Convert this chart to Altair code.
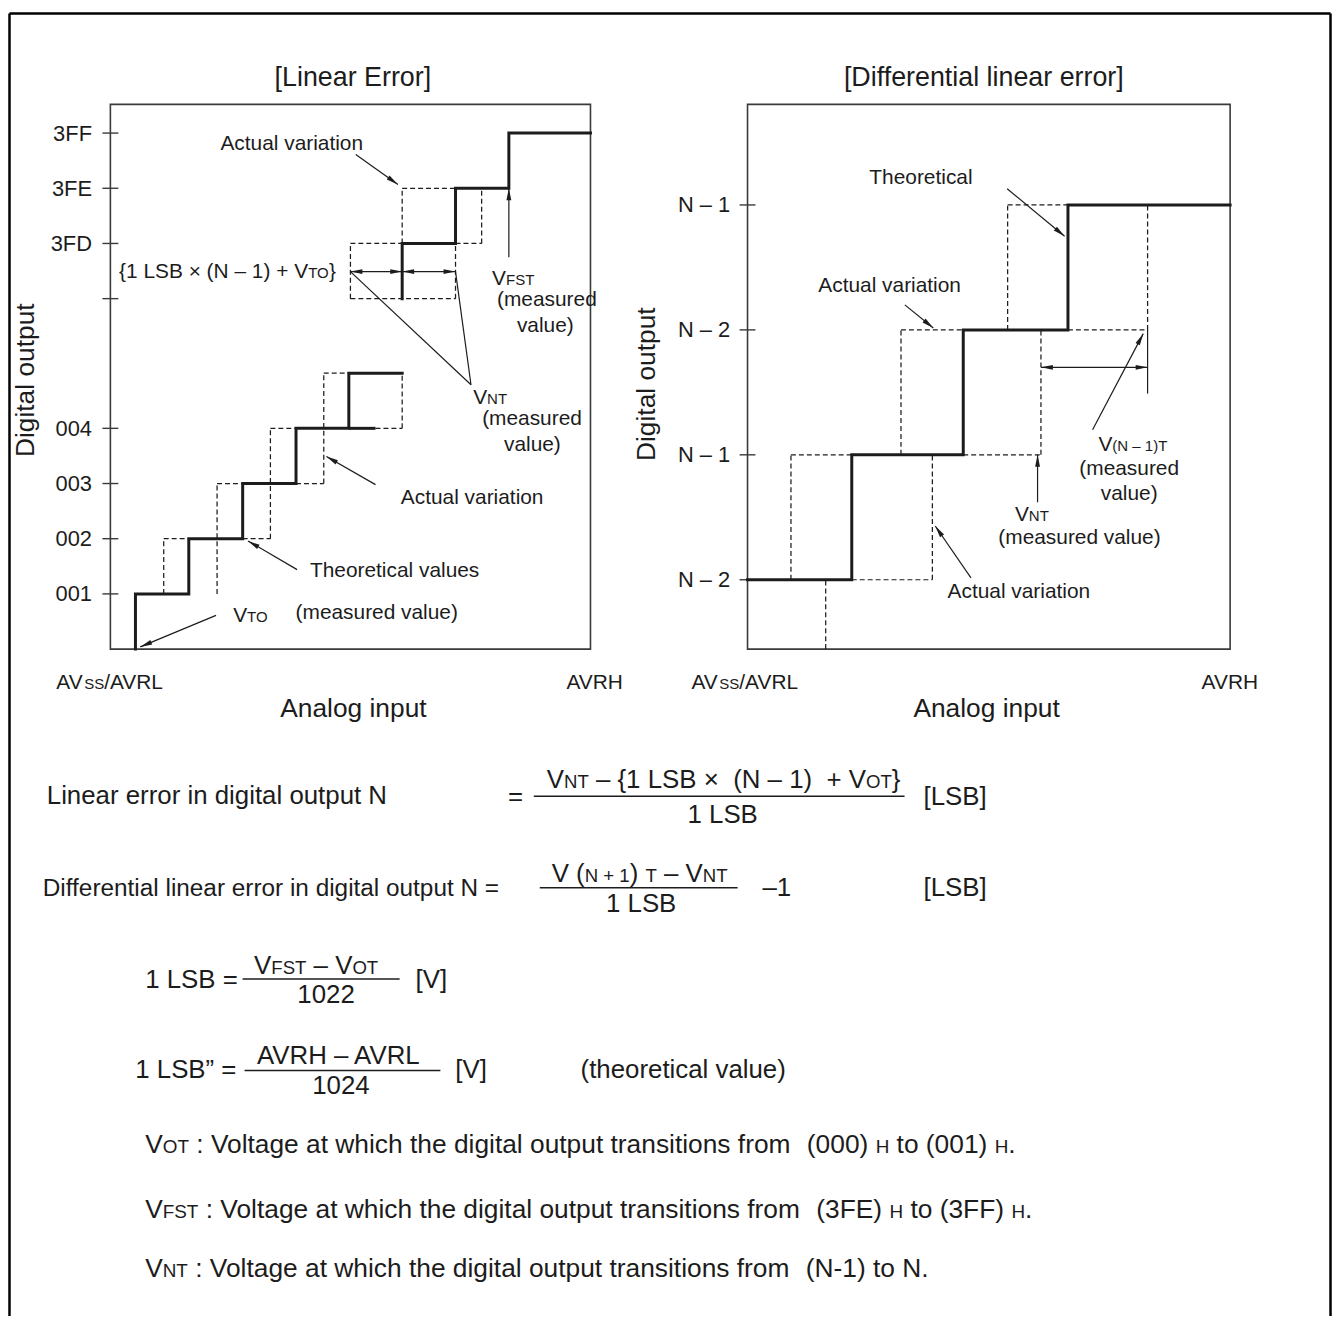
import json
import math
import altair as alt
import pandas as pd

FONT = "Liberation Sans, Arial, Helvetica, sans-serif"
INK = "#1c1c1c"
FRAME = "#3a3a3a"
CW, CH = 1332, 1312          # chart size; the page adds an 8px margin

# ------------------------------------------------------------------ data
# Left panel "[Linear Error]": x = analog input (LSB steps), y = output code rows
L_X_DOMAIN = [0, 9]
L_Y_DOMAIN = [0, 9.87]
L_TICK_POS = [1, 2, 3, 4, 6.35, 7.35, 8.35, 9.35]
L_TICK_LABELS = ["001", "002", "003", "004", "", "3FD", "3FE", "3FF"]
L_LOW_TRANS = [0.47, 1.47, 2.48, 3.48, 4.47]
L_LOW_LEVELS = [0, 1, 2, 3, 4, 5]
L_LOW_END = 5.47
L_UP_TRANS = [5.47, 6.47, 7.47]
L_UP_LEVELS = [6.35, 7.35, 8.35, 9.35]
L_UP_END = 9.0
L_SOLID_EXTRA = [(4.47, 4, 4.97, 4)]
L_DASHED = [
    (1.0, 1, 1.0, 2), (1.0, 2, 1.47, 2),
    (2.0, 1, 2.0, 3), (2.0, 3, 2.48, 3), (2.48, 2, 3.0, 2),
    (3.0, 2, 3.0, 4), (3.0, 4, 3.48, 4), (3.48, 3, 4.0, 3),
    (4.0, 3, 4.0, 5), (4.0, 5, 4.47, 5),
    (4.97, 4, 5.47, 4), (5.47, 4, 5.47, 5),
    (4.5, 6.35, 4.5, 7.35), (4.5, 7.35, 5.47, 7.35), (4.5, 6.35, 6.47, 6.35),
    (6.47, 6.35, 6.47, 7.35), (5.47, 7.35, 5.47, 8.35), (5.47, 8.35, 6.47, 8.35),
    (6.47, 7.35, 6.96, 7.35), (6.96, 7.35, 6.96, 8.35),
]
# x1, y1, x2, y2, head at start, head at end
L_ARROWS = [
    (4.60, 8.96, 5.39, 8.42, 0, 1),
    (4.50, 6.84, 5.47, 6.84, 1, 1),
    (5.47, 6.84, 6.47, 6.84, 1, 1),
    (4.50, 6.84, 6.76, 4.79, 0, 0),
    (6.47, 6.84, 6.76, 4.79, 0, 0),
    (7.47, 7.10, 7.47, 8.35, 0, 1),
    (4.97, 2.98, 4.05, 3.49, 0, 1),
    (3.50, 1.44, 2.58, 1.96, 0, 1),
    (1.98, 0.61, 0.56, 0.04, 0, 1),
]

# Right panel "[Differential linear error]"
R_X_DOMAIN = [0, 10]
R_Y_DOMAIN = [-0.555, 3.805]
R_TICK_POS = [0, 1, 2, 3]
R_TICK_LABELS = ["N – 2", "N – 1", "N – 2", "N – 1"]
R_START = 0
R_TRANS = [2.16, 4.47, 6.64]
R_LEVELS = [0, 1, 2, 3]
R_END = 10
R_DASHED = [
    (0.90, 0, 0.90, 1), (0.90, 1, 2.16, 1),
    (1.62, -0.555, 1.62, 0),
    (2.16, 0, 3.83, 0), (3.83, 0, 3.83, 1),
    (3.18, 1, 3.18, 2), (3.18, 2, 4.47, 2),
    (4.47, 1, 6.08, 1), (6.08, 1, 6.08, 2),
    (5.39, 2, 5.39, 3), (5.39, 3, 6.64, 3),
    (6.64, 2, 8.29, 2), (8.29, 2, 8.29, 3),
]
R_ARROWS = [
    (5.38, 3.13, 6.57, 2.75, 0, 1),
    (3.26, 2.20, 3.85, 2.015, 0, 1),
    (6.08, 1.70, 8.29, 1.70, 1, 1),
    (8.29, 1.49, 8.29, 2.0, 0, 0),
    (7.15, 1.20, 8.20, 1.97, 0, 1),
    (6.01, 0.62, 6.01, 1.0, 0, 1),
    (4.63, 0.015, 3.89, 0.43, 0, 1),
]

# ------------------------------------------------------------------ layout
L_RANGE_X, L_RANGE_Y = [103, 586], [641, 93]
R_RANGE_X, R_RANGE_Y = [744, 1229.5], [641, 93]
ARROW_PATH = "M0,0L-0.45,2.2L0.45,2.2Z"
ARROW_SIZE = 119

# Arial / Liberation Sans advance widths (per 1000 em)
W = {' ': 278, '(': 333, ')': 333, '+': 584, '-': 333, '.': 278, '/': 278, ':': 278,
     '=': 584, '[': 278, ']': 278, '{': 334, '}': 334, '×': 584, '–': 556, '”': 333,
     'A': 667, 'B': 667, 'C': 722, 'D': 722, 'E': 667, 'F': 611, 'G': 778, 'H': 722,
     'I': 278, 'L': 556, 'N': 722, 'O': 778, 'R': 722, 'S': 667, 'T': 611, 'V': 667,
     'a': 556, 'b': 556, 'c': 500, 'd': 556, 'e': 556, 'f': 278, 'g': 556, 'h': 556,
     'i': 222, 'l': 222, 'm': 833, 'n': 556, 'o': 556, 'p': 556, 'r': 333, 's': 500,
     't': 278, 'u': 556, 'v': 500, 'w': 722}
for d in "0123456789":
    W[d] = 556


def tw(s, size):
    return sum(W.get(c, 556) for c in s) * size / 1000.0


def rich(pieces, x, y, anchor="left"):
    total = sum(tw(t, s) for t, s in pieces)
    if anchor == "center":
        x -= total / 2
    elif anchor == "right":
        x -= total
    rows = []
    for t, s in pieces:
        lead = len(t) - len(t.lstrip(" "))
        core = t.strip(" ")
        if core:
            rows.append({"x": x + tw(" " * lead, s), "y": y, "text": core, "size": s})
        x += tw(t, s)
    return rows


A, S = 21, 15.1      # annotation text, small caps
F, FS = 26, 18.7     # formula text, small caps
F2 = 24.5            # the condensed "Differential ..." line
L, LS = 26.5, 19     # definition lines
T, TA = 27, 26.5     # panel titles, axis titles

TEXTS = []
for item in [
    ([("[Linear Error]", T)], 355, 83, "center"),
    ([("[Differential linear error]", T)], 990, 83, "center"),
    ([("Actual variation", A)], 293.5, 147, "center"),
    ([("{1 LSB × (N – 1) + V", A), ("TO", S), ("}", A)], 338, 276, "right"),
    ([("V", A), ("FST", S)], 495, 283, "left"),
    ([("(measured", A)], 500, 304, "left"),
    ([("value)", A)], 520, 330, "left"),
    ([("V", A), ("NT", S)], 476, 402, "left"),
    ([("(measured", A)], 485, 424, "left"),
    ([("value)", A)], 507, 450, "left"),
    ([("Actual variation", A)], 475, 503, "center"),
    ([("Theoretical values", A)], 397, 576, "center"),
    ([("V", A), ("TO", S)], 234.5, 622, "left"),
    ([("(measured value)", A)], 379, 619, "center"),
    ([("AV", A), ("SS", S), ("/AVRL", A)], 111, 689, "center"),
    ([("AVRH", A)], 599, 689, "center"),
    ([("AV", A), ("SS", S), ("/AVRL", A)], 750, 689, "center"),
    ([("AVRH", A)], 1238, 689, "center"),
    ([("Theoretical", A)], 926.5, 181, "center"),
    ([("Actual variation", A)], 895, 290, "center"),
    ([("V", A), ("(N – 1)T", S)], 1105, 450, "left"),
    ([("(measured", A)], 1136, 474, "center"),
    ([("value)", A)], 1136, 499, "center"),
    ([("V", A), ("NT", S)], 1021, 520, "left"),
    ([("(measured value)", A)], 1086, 543, "center"),
    ([("Actual variation", A)], 1025, 598, "center"),
    # formulas
    ([("Linear error in digital output N", F)], 47, 805, "left"),
    ([("=", F)], 511, 806, "left"),
    ([("V", F), ("NT", FS), (" – {1 LSB × ", F), (" (N – 1) ", F), (" + V", F), ("OT", FS), ("}", F)],
     550, 789, "left"),
    ([("1 LSB", F)], 727, 824, "center"),
    ([("[LSB]", F)], 929, 806, "left"),
    ([("Differential linear error in digital output N =", F2)], 43, 897, "left"),
    ([("V (", F), ("N + 1", FS), (") ", F), ("T", FS), (" – V", F), ("NT", FS)], 555, 883, "left"),
    ([("1 LSB", F)], 645, 914, "center"),
    ([("–1", F)], 767, 897, "left"),
    ([("[LSB]", F)], 929, 897, "left"),
    ([("1 LSB =", F)], 146, 990, "left"),
    ([("V", F), ("FST", FS), (" – V", F), ("OT", FS)], 318, 976, "center"),
    ([("1022", F)], 328, 1005, "center"),
    ([("[V]", F)], 418, 990, "left"),
    ([("1 LSB” =", F)], 136, 1081, "left"),
    ([("AVRH – AVRL", F)], 343, 1066, "center"),
    ([("1024", F)], 343, 1097, "center"),
    ([("[V]", F)], 458, 1081, "left"),
    ([("(theoretical value)", F)], 584, 1081, "left"),
    ([("V", L), ("OT", LS), (" : Voltage at which the digital output transitions from ", L),
      (" (000) ", L), ("H", LS), (" to (001) ", L), ("H", LS), (".", L)], 146, 1156, "left"),
    ([("V", L), ("FST", LS), (" : Voltage at which the digital output transitions from ", L),
      (" (3FE) ", L), ("H", LS), (" to (3FF) ", L), ("H", LS), (".", L)], 146, 1221, "left"),
    ([("V", L), ("NT", LS), (" : Voltage at which the digital output transitions from ", L),
      (" (N-1) to N.", L)], 146, 1281, "left"),
]:
    TEXTS += rich(*item)

FRACTION_BARS = [(537, 910, 797), (543, 742, 889), (244, 402, 981), (246, 443, 1073)]
BORDER = [(9.5, 9.5, 9.5, 1320), (9.5, 9.5, 1338.5, 9.5), (1338.5, 9.5, 1338.5, 1320)]


# ------------------------------------------------------------------ helpers
def staircase(trans, levels, end, start=None):
    pts = []
    if start is not None:
        pts.append((start, levels[0]))
    for i, t in enumerate(trans):
        pts.append((t, levels[i]))
        pts.append((t, levels[i + 1]))
    pts.append((end, levels[-1]))
    return pts


def seg_df(segs):
    return pd.DataFrame([dict(x=a, y=b, x2=c, y2=d) for a, b, c, d in segs])


def heads_df(arrows, xdom, ydom, xr, yr):
    sx = (xr[1] - xr[0]) / (xdom[1] - xdom[0])
    sy = (yr[0] - yr[1]) / (ydom[1] - ydom[0])
    rows = []
    for x1, y1, x2, y2, hs, he in arrows:
        dxp, dyp = (x2 - x1) * sx, -(y2 - y1) * sy
        if he:
            rows.append(dict(x=x2, y=y2, angle=math.degrees(math.atan2(dxp, -dyp)) % 360))
        if hs:
            rows.append(dict(x=x1, y=y1, angle=math.degrees(math.atan2(-dxp, dyp)) % 360))
    return pd.DataFrame(rows)


def panel(xdom, ydom, xr, yr, tick_pos, tick_labels, polylines, solid, dashed, arrows,
          xtitle_x, ytitle_x, ytitle_y, label_pad):
    xs = alt.Scale(domain=xdom, range=xr, nice=False, zero=False)
    ys = alt.Scale(domain=ydom, range=yr, nice=False, zero=False)
    label_expr = "%s[indexof(%s, datum.value)]" % (json.dumps(tick_labels), json.dumps(tick_pos))
    xa = alt.Axis(orient="bottom", offset=yr[0] - CH, labels=False, ticks=False, domain=False,
                  grid=False, title="Analog input", titleFont=FONT, titleFontSize=TA,
                  titleFontWeight="normal", titleColor=INK, titleX=xtitle_x, titleY=68,
                  titleAlign="center", titleBaseline="alphabetic")
    ya = alt.Axis(orient="left", offset=-xr[0], values=tick_pos, labelExpr=label_expr,
                  ticks=False, tickSize=0, domain=False, grid=False, labelPadding=label_pad,
                  labelFont=FONT, labelFontSize=22, labelColor=INK, labelOverlap=False,
                  title="Digital output", titleFont=FONT, titleFontSize=TA,
                  titleFontWeight="normal", titleColor=INK, titleAngle=270,
                  titleX=ytitle_x, titleY=ytitle_y, titleAlign="center",
                  titleBaseline="alphabetic")

    def X(f):
        return alt.X(f, type="quantitative", scale=xs, axis=xa)

    def Y(f):
        return alt.Y(f, type="quantitative", scale=ys, axis=ya)

    frame = alt.Chart(pd.DataFrame([dict(x=xdom[0], x2=xdom[1], y=ydom[0], y2=ydom[1])])).mark_rect(
        fillOpacity=0, stroke=FRAME, strokeWidth=1.6).encode(x=X("x"), x2="x2", y=Y("y"), y2="y2")
    ticks = alt.Chart(pd.DataFrame(dict(x=[xdom[0]] * len(tick_pos), y=tick_pos))).mark_rule(
        xOffset=-8, x2Offset=8, color=FRAME, strokeWidth=1.4).encode(x=X("x"), x2="x", y=Y("y"))
    rows = []
    for g, pts in enumerate(polylines):
        for i, (px, py) in enumerate(pts):
            rows.append(dict(x=px, y=py, grp=g, order=i))
    steps = alt.Chart(pd.DataFrame(rows)).mark_line(
        color=INK, strokeWidth=3, strokeJoin="miter", strokeCap="square").encode(
        x=X("x"), y=Y("y"), detail="grp:N", order="order:Q")
    layers = [frame, ticks, steps]
    if solid:
        layers.append(alt.Chart(seg_df(solid)).mark_rule(color=INK, strokeWidth=3).encode(
            x=X("x"), x2="x2", y=Y("y"), y2="y2"))
    layers.append(alt.Chart(seg_df(dashed)).mark_rule(
        color=INK, strokeWidth=1.25, strokeDash=[5, 3]).encode(x=X("x"), x2="x2", y=Y("y"), y2="y2"))
    layers.append(alt.Chart(seg_df([a[:4] for a in arrows])).mark_rule(
        color=INK, strokeWidth=1.2).encode(x=X("x"), x2="x2", y=Y("y"), y2="y2"))
    layers.append(alt.Chart(heads_df(arrows, xdom, ydom, xr, yr)).mark_point(
        shape=ARROW_PATH, filled=True, size=ARROW_SIZE, color=INK, opacity=1, strokeWidth=0).encode(
        x=X("x"), y=Y("y"), angle=alt.Angle("angle:Q", scale=None)))
    return alt.layer(*layers)


left = panel(L_X_DOMAIN, L_Y_DOMAIN, L_RANGE_X, L_RANGE_Y, L_TICK_POS, L_TICK_LABELS,
             [staircase(L_LOW_TRANS, L_LOW_LEVELS, L_LOW_END),
              staircase(L_UP_TRANS, L_UP_LEVELS, L_UP_END)],
             L_SOLID_EXTRA, L_DASHED, L_ARROWS,
             xtitle_x=347, ytitle_x=-77, ytitle_y=370, label_pad=19)

right = panel(R_X_DOMAIN, R_Y_DOMAIN, R_RANGE_X, R_RANGE_Y, R_TICK_POS, R_TICK_LABELS,
              [staircase(R_TRANS, R_LEVELS, R_END, start=R_START)],
              [], R_DASHED, R_ARROWS,
              xtitle_x=984, ytitle_x=-94, ytitle_y=374, label_pad=18)

# notes layer: page coordinates
NX = alt.Scale(domain=[8, 8 + CW], range=[0, CW], nice=False, zero=False)
NY = alt.Scale(domain=[8, 8 + CH], range=[0, CH], nice=False, zero=False)
nxe = alt.X("x:Q", scale=NX, axis=None)
nye = alt.Y("y:Q", scale=NY, axis=None)

texts = alt.Chart(pd.DataFrame(TEXTS)).mark_text(
    align="left", baseline="alphabetic", font=FONT, color=INK).encode(
    x=nxe, y=nye, text="text:N", size=alt.Size("size:Q", scale=None, legend=None))
bars = alt.Chart(pd.DataFrame([dict(x=a, x2=b, y=c) for a, b, c in FRACTION_BARS])).mark_rule(
    color=INK, strokeWidth=1.5).encode(x=nxe, x2="x2", y=nye)
border = alt.Chart(seg_df(BORDER)).mark_rule(color="#000000", strokeWidth=2.5).encode(
    x=nxe, x2="x2", y=nye, y2="y2")
notes = alt.layer(border, bars, texts)

chart = alt.layer(left, right, notes).resolve_scale(
    x="independent", y="independent").properties(
    width=CW, height=CH, autosize=alt.AutoSizeParams(type="none"), padding=0,
    background="white").configure_view(stroke=None)

chart.save("out.html", embed_options={"renderer": "svg", "actions": False})
